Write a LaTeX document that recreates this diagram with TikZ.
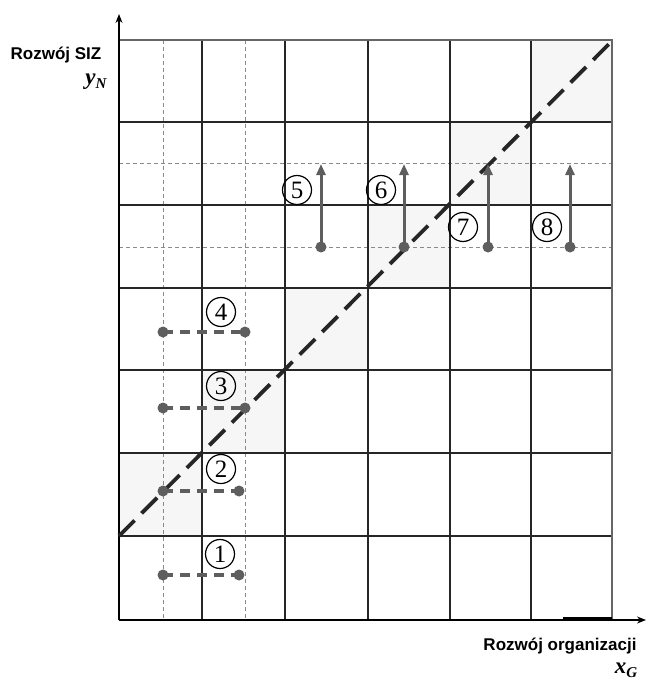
\documentclass[tikz,border=0pt]{standalone}
\usepackage{fontspec}
\setmainfont{Liberation Serif}
\newfontfamily\arialf{Liberation Sans}
\usetikzlibrary{arrows.meta}
\definecolor{cellshade}{HTML}{F6F6F6}
\definecolor{dgray}{HTML}{5E5E5E}
\definecolor{lgray}{HTML}{8A8A8A}
\newcommand{\subtxt}[1]{\raisebox{-4pt}{\fontsize{15}{15}\selectfont #1}}
\tikzset{
  gridline/.style={line width=1.3pt, black!85},
  thindash/.style={line width=0.9pt, lgray, dash pattern=on 4pt off 3pt},
  diag/.style={line width=3.8pt, black!85, dash pattern=on 22pt off 10pt},
  dumb/.style={line width=3.2pt, dgray, dash pattern=on 10pt off 7pt},
  uparrow/.style={line width=3pt, dgray, -{Triangle[length=11pt,width=9pt]}},
  dot/.style={circle, fill=dgray, inner sep=0pt, minimum size=11pt},
  numc/.style={circle, draw=black, line width=1.2pt, inner sep=0pt, minimum size=29pt, font=\fontsize{25}{25}\selectfont},
  axis/.style={line width=1.2pt, black, -{Stealth[length=9pt,width=7pt]}},
  lab/.style={font=\arialf\bfseries\fontsize{17}{17}\selectfont},
  sym/.style={font=\bfseries\itshape\fontsize{23}{23}\selectfont}
}
\begin{document}
\begin{tikzpicture}[x=1pt,y=-1pt]
\useasboundingbox (0,0) rectangle (647,682);
% shaded diagonal squares
\fill[cellshade] (119,453) rectangle (202,536);
\fill[cellshade] (202,370) rectangle (285,453);
\fill[cellshade] (285,288) rectangle (368,370);
\fill[cellshade] (368,205) rectangle (450,288);
\fill[cellshade] (450,122) rectangle (531,205);
\fill[cellshade] (531,40) rectangle (612,122);
% thin dashed guides
\draw[thindash] (163,40) -- (163,620);
\draw[thindash] (245,40) -- (245,620);
\draw[thindash] (119,163) -- (612,163);
\draw[thindash] (119,247) -- (612,247);
% grid
\foreach \x in {202,285,368,450,531} \draw[gridline] (\x,40) -- (\x,620);
\foreach \y in {122,205,288,370,453,536} \draw[gridline] (119,\y) -- (612,\y);
\draw[gridline, black!60] (119,40) -- (612,40) -- (612,620);
% axes
\coordinate (O) at (119,620);
\coordinate (Ytip) at (119,14);
\coordinate (Xtip) at (646,620);
\draw[axis] (O) -- (Ytip);
\draw[axis] (O) -- (Xtip);
\draw[line width=2pt] (563,618) -- (612,618);
\draw[line width=2.4pt] (119,40) -- (119,60);
% diagonal
\coordinate (D0) at (119,536);
\coordinate (D1) at (609,44);
\draw[diag] (D0) -- (D1);
% dumbbells
\node[dot] (d1a) at (163,575) {};
\node[dot] (d1b) at (239,575) {};
\node[dot] (d2a) at (163,491) {};
\node[dot] (d2b) at (239,491) {};
\node[dot] (d3a) at (163,408) {};
\node[dot] (d3b) at (245,408) {};
\node[dot] (d4a) at (163,332) {};
\node[dot] (d4b) at (245,332) {};
\draw[dumb] (d1a.center) -- (d1b.center);
\draw[dumb] (d2a.center) -- (d2b.center);
\draw[dumb] (d3a.center) -- (d3b.center);
\draw[dumb] (d4a.center) -- (d4b.center);
% vertical arrows
\node[dot] (a5) at (321,247) {};
\node[dot] (a6) at (404,247) {};
\node[dot] (a7) at (488,247) {};
\node[dot] (a8) at (570,247) {};
\coordinate (t5) at (321,164);
\coordinate (t6) at (404,164);
\coordinate (t7) at (488,164);
\coordinate (t8) at (570,164);
\draw[uparrow] (a5.center) -- (t5);
\draw[uparrow] (a6.center) -- (t6);
\draw[uparrow] (a7.center) -- (t7);
\draw[uparrow] (a8.center) -- (t8);
% circled numbers
\node[numc] (n1) at (220,554) {1};
\node[numc] (n2) at (221,469) {2};
\node[numc] (n3) at (221,386) {3};
\node[numc] (n4) at (221,312) {4};
\node[numc] (n5) at (297,190) {5};
\node[numc] (n6) at (381,190) {6};
\node[numc] (n7) at (463,227) {7};
\node[numc] (n8) at (547,227) {8};
% labels
\node[lab] (ly) at (56,55) {Rozwój SIZ};
\node[sym] (lyn) at (96,82) {y\subtxt{N}};
\node[lab] (lx) at (560,646) {Rozwój organizacji};
\node[sym] (lxg) at (626,670) {x\subtxt{G}};
\end{tikzpicture}
\end{document}
